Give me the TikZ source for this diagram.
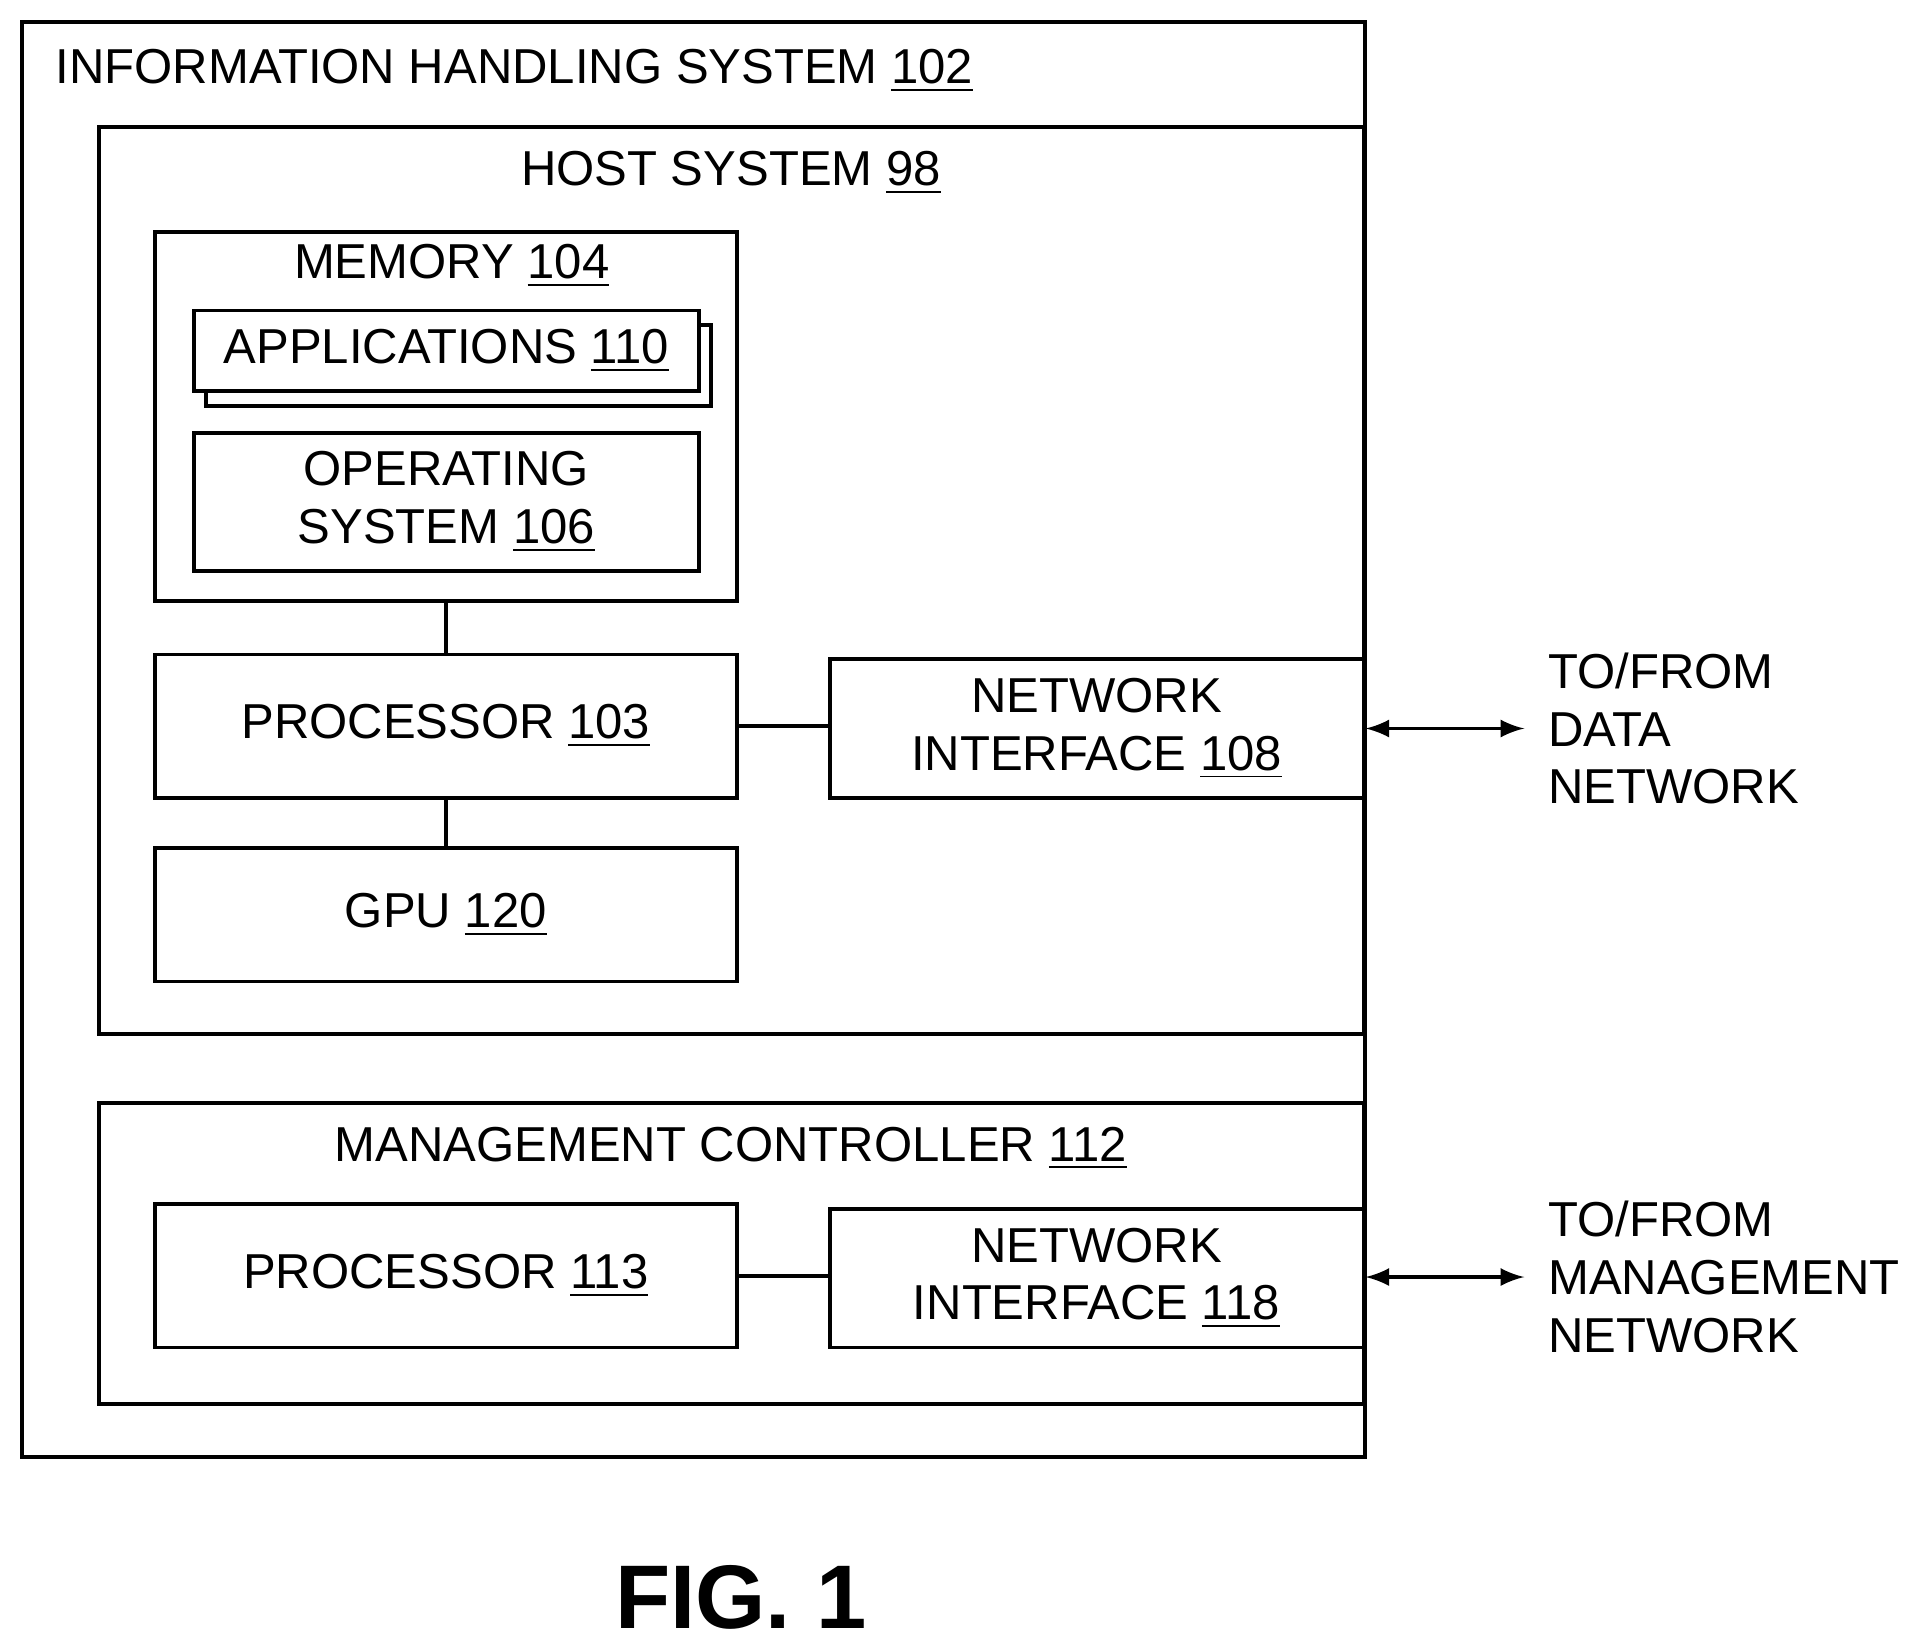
\documentclass[tikz,border=0pt]{standalone}
\usepackage{fontspec}
\setmainfont{Liberation Sans}
\usetikzlibrary{positioning}
\tikzset{
  blk/.style={draw, line width=0.9pt, fill=white, align=center, inner sep=0pt,
              font=\fontsize{11.4}{13.4}\selectfont},
  lnk/.style={line width=0.9pt},
  ext/.style={line width=0.9pt, <->, >=latex},
  side/.style={anchor=west, align=left, font=\fontsize{11.4}{13.4}\selectfont}
}
\newcommand{\num}[1]{\underline{#1}}
\begin{document}
\begin{tikzpicture}[y=-1cm]
\useasboundingbox (0,0) rectangle (15.6,13.45);

% frames
\draw[line width=0.9pt] (0.18,0.18) rectangle (11.15,11.9);
\node[blk, anchor=north west, minimum width=10.33cm, minimum height=7.41cm] (host) at (0.79,1.02) {};
\node[blk, anchor=north west, minimum width=10.33cm, minimum height=2.46cm] (mc) at (0.79,8.99) {};
\node[anchor=west, font=\fontsize{11.4}{13.4}\selectfont] (ihs) at (0.33,0.58) {INFORMATION HANDLING SYSTEM \num{102}};
\node[font=\fontsize{11.4}{13.4}\selectfont] (hostlbl) at (5.97,1.41) {HOST SYSTEM \num{98}};
\node[font=\fontsize{11.4}{13.4}\selectfont] (mclbl) at (5.97,9.38) {MANAGEMENT CONTROLLER \num{112}};

% host blocks
\node[blk, anchor=north west, minimum width=4.75cm, minimum height=3.01cm] (mem) at (1.25,1.88) {};
\node[font=\fontsize{11.4}{13.4}\selectfont] (memlbl) at (3.69,2.17) {MEMORY \num{104}};
\node[blk, anchor=north west, minimum width=4.12cm, minimum height=0.66cm] (appsb) at (1.67,2.64) {};
\node[blk, anchor=north west, minimum width=4.12cm, minimum height=0.66cm] (apps) at (1.57,2.52) {APPLICATIONS \num{110}};
\node[blk, anchor=north west, minimum width=4.12cm, minimum height=1.13cm] (os) at (1.57,3.52) {OPERATING\\SYSTEM \num{106}};
\node[blk, anchor=north west, minimum width=4.75cm, minimum height=1.17cm] (proc) at (1.25,5.33) {PROCESSOR \num{103}};
\node[blk, anchor=north west, minimum width=4.75cm, minimum height=1.09cm] (gpu) at (1.25,6.91) {GPU \num{120}};
\node[blk, anchor=north west, minimum width=4.36cm, minimum height=1.13cm] (nic) at (6.76,5.37) {NETWORK\\INTERFACE \num{108}};

% management blocks
\node[blk, anchor=north west, minimum width=4.75cm, minimum height=1.17cm] (mproc) at (1.25,9.82) {PROCESSOR \num{113}};
\node[blk, anchor=north west, minimum width=4.36cm, minimum height=1.13cm] (mnic) at (6.76,9.86) {NETWORK\\INTERFACE \num{118}};

% links
\draw[lnk] (mem) -- (proc);
\draw[lnk] (proc) -- (gpu);
\draw[lnk] (proc.east) -- (proc.east -| nic.west);
\draw[lnk] (mproc.east) -- (mproc.east -| mnic.west);

% external
\node[side] (data) at (12.52,5.95) {TO/FROM\\DATA\\NETWORK};
\node[side] (mgmt) at (12.52,10.43) {TO/FROM\\MANAGEMENT\\NETWORK};
\coordinate (dend) at (12.45,5.95);
\coordinate (mend) at (12.45,10.43);
\draw[ext] (nic.east |- dend) -- (dend);
\draw[ext] (mnic.east |- mend) -- (mend);

\node[font=\fontsize{21}{24}\selectfont\bfseries] (fig) at (6.05,13.05) {FIG. 1};
\end{tikzpicture}
\end{document}
